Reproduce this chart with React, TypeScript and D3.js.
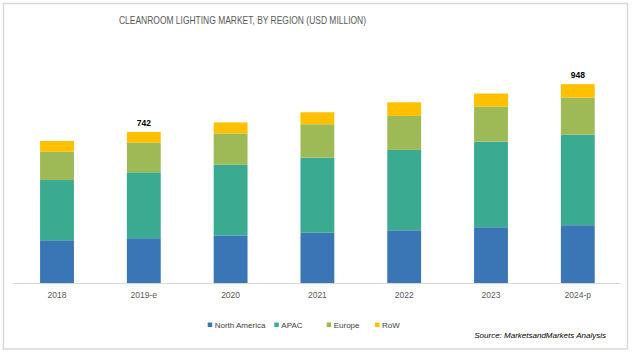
import React from "react";
import * as d3 from "d3";

const categories = ["2018", "2019-e", "2020", "2021", "2022", "2023", "2024-p"];
const seriesNames = ["North America", "APAC", "Europe", "RoW"];
const northAmerica = [210, 220, 234, 247, 259, 274, 284];
const apac = [296, 324, 347, 369, 395, 421, 445];
const europe = [139, 146, 154, 164, 167, 172, 182];
const row = [53, 52, 54, 59, 67, 64, 66];
const totalLabels = ["", "742", "", "", "", "", "948"];
const colors = ["#3a76b6", "#3aaa90", "#9dba57", "#ffc000"];

const W = 632;
const H = 354;

export default function App() {
  const data = categories.map((c, i) => ({
    cat: c,
    "North America": northAmerica[i],
    APAC: apac[i],
    Europe: europe[i],
    RoW: row[i],
  }));
  const stack = d3.stack<any>().keys(seriesNames)(data);
  const x = d3.scaleBand().domain(categories).range([13.6, 621.2]).paddingInner(0.61).paddingOuter(0.305);
  const y = d3.scaleLinear().domain([0, 742]).range([283, 132]);
  const font = "'Liberation Sans', Arial, sans-serif";
  const legendX = [207.7, 274.3, 326.7, 375];

  return (
    <svg width={W} height={H} style={{ position: "absolute", left: 0, top: 0 }} fontFamily={font}>
      <rect x={0} y={0} width={W} height={H} fill="#fff" />
      <rect x={3.5} y={3.5} width={624} height={345.5} fill="#fff" stroke="#d9d9d9" strokeWidth={1.5} />
      <text x={242.5} y={24} textAnchor="middle" fontSize={11} fill="#595959" textLength={247} lengthAdjust="spacingAndGlyphs">
        CLEANROOM LIGHTING MARKET, BY REGION (USD MILLION)
      </text>
      {stack.map((s, si) => (
        <g key={s.key} fill={colors[si]}>
          {s.map((d, i) => (
            <rect key={i} x={x(categories[i])} width={x.bandwidth()} y={y(d[1])} height={y(d[0]) - y(d[1])} />
          ))}
        </g>
      ))}
      <line x1={13} x2={621} y1={283.5} y2={283.5} stroke="#d9d9d9" strokeWidth={1} />
      {categories.map((c) => (
        <text key={c} x={(x(c) as number) + x.bandwidth() / 2} y={298} textAnchor="middle" fontSize={8.5} fill="#595959">
          {c}
        </text>
      ))}
      {totalLabels.map((l, i) =>
        l ? (
          <text key={i} x={(x(categories[i]) as number) + x.bandwidth() / 2} y={y(stack[3][i][1]) - 6} textAnchor="middle" fontSize={8.5} fontWeight="bold" fill="#000">
            {l}
          </text>
        ) : null
      )}
      {seriesNames.map((n, i) => (
        <g key={n}>
          <rect x={legendX[i]} y={322.5} width={4.5} height={4.5} fill={colors[i]} />
          <text x={legendX[i] + 7} y={327.5} fontSize={8} fill="#404040">{n}</text>
        </g>
      ))}
      <text x={606} y={337.5} textAnchor="end" fontSize={8} fontStyle="italic" fill="#000">
        Source: MarketsandMarkets Analysis
      </text>
    </svg>
  );
}
